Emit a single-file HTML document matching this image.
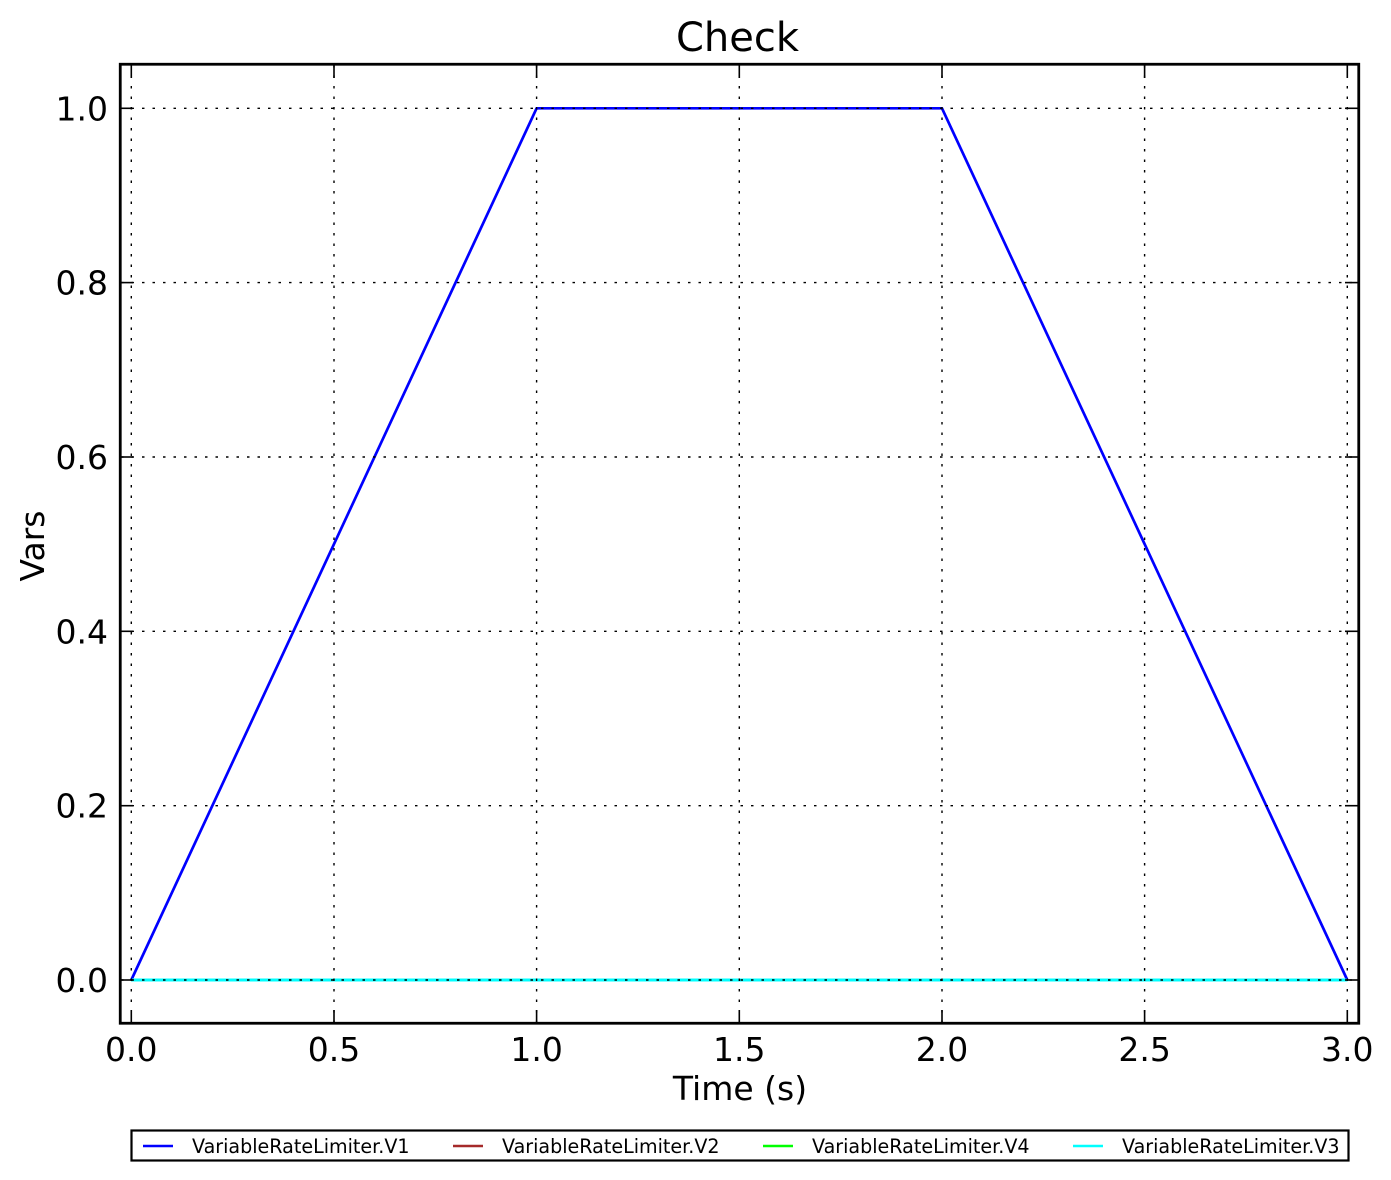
<!DOCTYPE html>
<html>
<head>
<meta charset="utf-8">
<style>
html,body{margin:0;padding:0;background:#fff;}
svg{display:block;}
text{font-family:"DejaVu Sans","Liberation Sans",sans-serif;fill:#000;}
</style>
</head>
<body>
<svg width="1391" height="1180" viewBox="0 0 1391 1180" xmlns="http://www.w3.org/2000/svg">
<rect x="0" y="0" width="1391" height="1180" fill="#fff"/>
<!-- title -->
<text x="737.5" y="51" font-size="40" text-anchor="middle">Check</text>

<!-- data lines -->
<polyline points="131.3,980 536.6,108.3 942,108.3 1347.3,980" fill="none" stroke="#0000ff" stroke-width="2.7" stroke-linejoin="round"/>
<line x1="131.3" y1="980" x2="1347.3" y2="980" stroke="#a52a2a" stroke-width="2.7"/>
<line x1="131.3" y1="980" x2="1347.3" y2="980" stroke="#00ff00" stroke-width="2.7"/>
<line x1="131.3" y1="980" x2="1347.3" y2="980" stroke="#00ffff" stroke-width="2.9"/>

<!-- grid (dotted, drawn above lines) -->
<g stroke="#000" stroke-width="1.4" stroke-dasharray="2.5,8" fill="none">
  <line x1="131.3" y1="65" x2="131.3" y2="1023"/>
  <line x1="334" y1="65" x2="334" y2="1023"/>
  <line x1="536.6" y1="65" x2="536.6" y2="1023"/>
  <line x1="739.3" y1="65" x2="739.3" y2="1023"/>
  <line x1="942" y1="65" x2="942" y2="1023"/>
  <line x1="1144.6" y1="65" x2="1144.6" y2="1023"/>
  <line x1="1347.3" y1="65" x2="1347.3" y2="1023"/>
  <line x1="121" y1="980" x2="1358" y2="980"/>
  <line x1="121" y1="805.7" x2="1358" y2="805.7"/>
  <line x1="121" y1="631.3" x2="1358" y2="631.3"/>
  <line x1="121" y1="457" x2="1358" y2="457"/>
  <line x1="121" y1="282.6" x2="1358" y2="282.6"/>
  <line x1="121" y1="108.3" x2="1358" y2="108.3"/>
</g>

<!-- ticks -->
<g stroke="#000" stroke-width="1.6">
  <line x1="120" y1="980" x2="133" y2="980"/>
  <line x1="120" y1="805.7" x2="133" y2="805.7"/>
  <line x1="120" y1="631.3" x2="133" y2="631.3"/>
  <line x1="120" y1="457" x2="133" y2="457"/>
  <line x1="120" y1="282.6" x2="133" y2="282.6"/>
  <line x1="120" y1="108.3" x2="133" y2="108.3"/>
  <line x1="1345" y1="980" x2="1358" y2="980"/>
  <line x1="1345" y1="805.7" x2="1358" y2="805.7"/>
  <line x1="1345" y1="631.3" x2="1358" y2="631.3"/>
  <line x1="1345" y1="457" x2="1358" y2="457"/>
  <line x1="1345" y1="282.6" x2="1358" y2="282.6"/>
  <line x1="1345" y1="108.3" x2="1358" y2="108.3"/>
  <line x1="131.3" y1="1023" x2="131.3" y2="1010"/>
  <line x1="334" y1="1023" x2="334" y2="1010"/>
  <line x1="536.6" y1="1023" x2="536.6" y2="1010"/>
  <line x1="739.3" y1="1023" x2="739.3" y2="1010"/>
  <line x1="942" y1="1023" x2="942" y2="1010"/>
  <line x1="1144.6" y1="1023" x2="1144.6" y2="1010"/>
  <line x1="1347.3" y1="1023" x2="1347.3" y2="1010"/>
  <line x1="131.3" y1="65" x2="131.3" y2="78"/>
  <line x1="334" y1="65" x2="334" y2="78"/>
  <line x1="536.6" y1="65" x2="536.6" y2="78"/>
  <line x1="739.3" y1="65" x2="739.3" y2="78"/>
  <line x1="942" y1="65" x2="942" y2="78"/>
  <line x1="1144.6" y1="65" x2="1144.6" y2="78"/>
  <line x1="1347.3" y1="65" x2="1347.3" y2="78"/>
</g>

<!-- frame -->
<rect x="120.25" y="64.25" width="1238.5" height="959" fill="none" stroke="#000" stroke-width="2.8"/>

<!-- y tick labels -->
<g font-size="33" text-anchor="end">
  <text x="108" y="992">0.0</text>
  <text x="108" y="817.7">0.2</text>
  <text x="108" y="643.3">0.4</text>
  <text x="108" y="469">0.6</text>
  <text x="108" y="294.6">0.8</text>
  <text x="108" y="120.3">1.0</text>
</g>
<!-- x tick labels -->
<g font-size="33" text-anchor="middle">
  <text x="131.3" y="1061">0.0</text>
  <text x="334" y="1061">0.5</text>
  <text x="536.6" y="1061">1.0</text>
  <text x="739.3" y="1061">1.5</text>
  <text x="942" y="1061">2.0</text>
  <text x="1144.6" y="1061">2.5</text>
  <text x="1347.3" y="1061">3.0</text>
</g>

<!-- axis labels -->
<text x="740" y="1100" font-size="33" text-anchor="middle">Time (s)</text>
<text transform="translate(44,546) rotate(-90)" x="0" y="0" font-size="33" text-anchor="middle">Vars</text>

<!-- legend -->
<rect x="131.5" y="1130.5" width="1217" height="30" fill="#fff" stroke="#000" stroke-width="2.2"/>
<line x1="143" y1="1146" x2="173" y2="1146" stroke="#0000ff" stroke-width="2.6"/>
<line x1="453" y1="1146" x2="483" y2="1146" stroke="#a52a2a" stroke-width="2.6"/>
<line x1="763" y1="1146" x2="793" y2="1146" stroke="#00ff00" stroke-width="2.6"/>
<line x1="1073" y1="1146" x2="1103" y2="1146" stroke="#00ffff" stroke-width="2.6"/>
<g font-size="19.1">
  <text x="192" y="1153">VariableRateLimiter.V1</text>
  <text x="502" y="1153">VariableRateLimiter.V2</text>
  <text x="812" y="1153">VariableRateLimiter.V4</text>
  <text x="1122" y="1153">VariableRateLimiter.V3</text>
</g>
</svg>
</body>
</html>
